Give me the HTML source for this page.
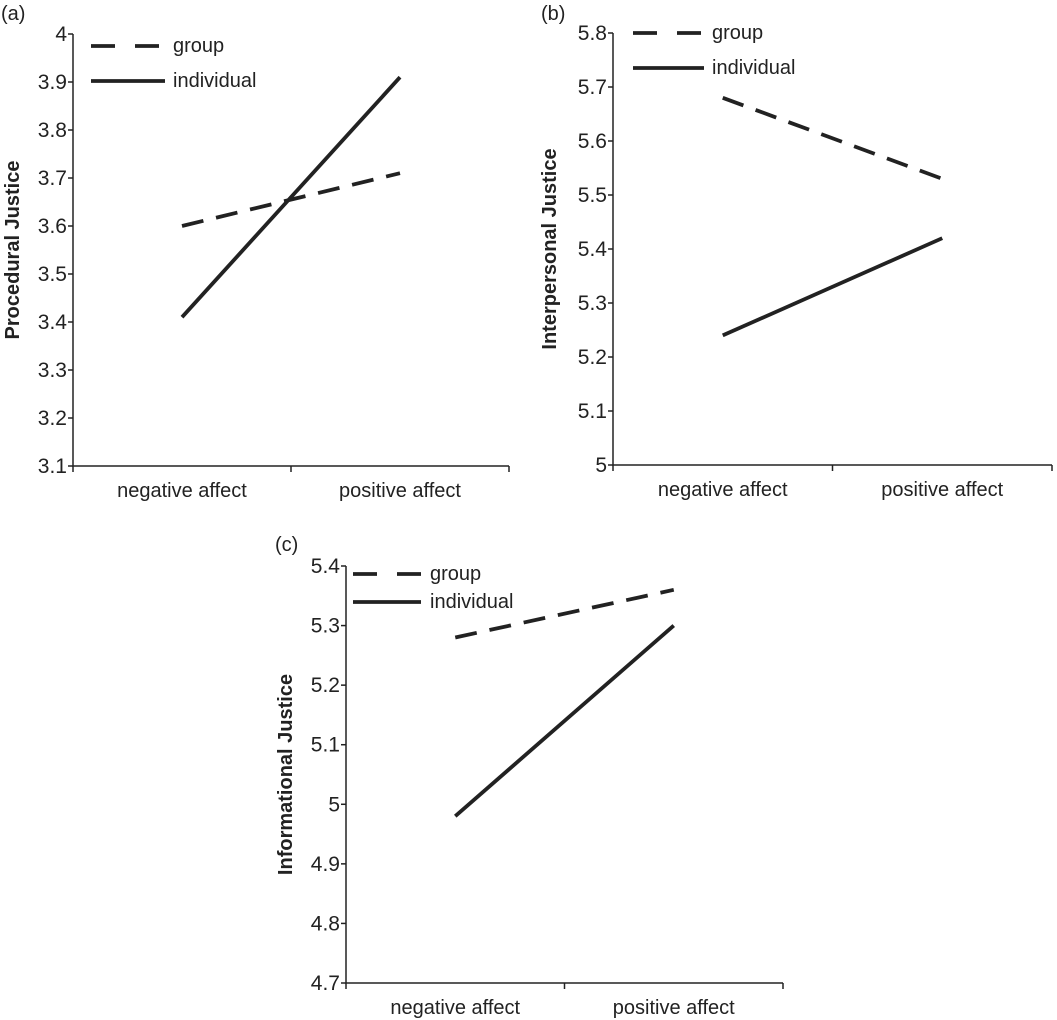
<!DOCTYPE html>
<html><head><meta charset="utf-8"><style>
html,body{margin:0;padding:0;background:#fff;}
svg{display:block;font-family:"Liberation Sans",Arial,sans-serif;}
</style></head><body>
<svg id="s" width="1057" height="1020" viewBox="0 0 1057 1020"></svg>
<script>
const categories = ["negative affect", "positive affect"];
const seriesNames = ["group", "individual"];
const aGroup = [3.6, 3.71];
const aIndividual = [3.41, 3.91];
const aTicks = [3.1, 3.2, 3.3, 3.4, 3.5, 3.6, 3.7, 3.8, 3.9, 4];
const aTickLabels = ["3.1","3.2","3.3","3.4","3.5","3.6","3.7","3.8","3.9","4"];
const bGroup = [5.68, 5.53];
const bIndividual = [5.24, 5.42];
const bTicks = [5, 5.1, 5.2, 5.3, 5.4, 5.5, 5.6, 5.7, 5.8];
const bTickLabels = ["5","5.1","5.2","5.3","5.4","5.5","5.6","5.7","5.8"];
const cGroup = [5.28, 5.36];
const cIndividual = [4.98, 5.3];
const cTicks = [4.7, 4.8, 4.9, 5, 5.1, 5.2, 5.3, 5.4];
const cTickLabels = ["4.7","4.8","4.9","5","5.1","5.2","5.3","5.4"];

const svg = document.getElementById('s');
const NS = 'http://www.w3.org/2000/svg';
function mk(tag, attrs, parent, text){
  const e = document.createElementNS(NS, tag);
  for (const k in attrs) e.setAttribute(k, attrs[k]);
  if (text !== undefined) e.textContent = text;
  parent.appendChild(e); return e;
}
function panel(p){
  const g = mk('g', {}, svg);
  
  
  const ticks = p.ticks, lo = ticks[0], hi = ticks[ticks.length-1];
  const y = v => p.y1 + (p.y0 - p.y1) * (hi - v) / (hi - lo);
  const bw = (p.x1 - p.x0) / categories.length;
  const x = i => p.x0 + bw * (i + 0.5);
  const lbl = mk('text', {x:p.lx, y:p.ly, 'font-size':20, fill:'#222'}, g, '(' + p.id + ')');
  
  
  const ax = mk('path', {d:`M${p.x0},${p.y1} V${p.y0} H${p.x1}`, stroke:'#222', 'stroke-width':1.5, fill:'none'}, g);
  
  
  ticks.forEach((t, i) => {
    mk('line', {x1:p.x0-5, x2:p.x0, y1:y(t), y2:y(t), stroke:'#222', 'stroke-width':1.5}, g);
    const tl = mk('text', {x:p.x0-6, y:y(t)+7, 'text-anchor':'end', 'font-size':21, fill:'#222'}, g, p.labels[i]);
    
    
  });
  for (let i = 0; i <= categories.length; i++) {
    mk('line', {x1:p.x0+bw*i, x2:p.x0+bw*i, y1:p.y0, y2:p.y0+6, stroke:'#222', 'stroke-width':1.5}, g);
  }
  categories.forEach((c, i) => {
    const t = mk('text', {x:x(i), y:p.y0+31, 'text-anchor':'middle', 'font-size':20, fill:'#222'}, g, c);
    
    
  });
  const ty = (p.y0 + p.y1) / 2;
  const tt = mk('text', {x:p.tx, y:ty, transform:`rotate(-90 ${p.tx} ${ty})`, 'text-anchor':'middle', 'font-size':20, 'font-weight':'bold', fill:'#222'}, g, p.title);
  
  
  const gl = mk('polyline', {points:p.group.map((v,i)=>x(i)+','+y(v)).join(' '), stroke:'#222', 'stroke-width':3.8, fill:'none', 'stroke-dasharray':'22,13'}, g);
  
  
  const il = mk('polyline', {points:p.ind.map((v,i)=>x(i)+','+y(v)).join(' '), stroke:'#222', 'stroke-width':3.8, fill:'none'}, g);
  
  
  const l1 = mk('line', {x1:p.legX0, x2:p.legX1, y1:p.legY1, y2:p.legY1, stroke:'#222', 'stroke-width':3.8, 'stroke-dasharray':'24,20'}, g);
  
  
  const t1 = mk('text', {x:p.legT, y:p.legY1+6, 'font-size':20, fill:'#222'}, g, seriesNames[0]);
  
  
  const l2 = mk('line', {x1:p.legX0, x2:p.legX1, y1:p.legY2, y2:p.legY2, stroke:'#222', 'stroke-width':3.8}, g);
  
  
  const t2 = mk('text', {x:p.legT, y:p.legY2+6, 'font-size':20, fill:'#222'}, g, seriesNames[1]);
  
  
}
panel({id:'a', x0:73, x1:509, y0:466, y1:34, ticks:aTicks, labels:aTickLabels, group:aGroup, ind:aIndividual,
  title:'Procedural Justice', tx:19, lx:1, ly:20, legX0:91, legX1:165, legY1:46, legY2:81, legT:173});
panel({id:'b', x0:613, x1:1052, y0:465, y1:33, ticks:bTicks, labels:bTickLabels, group:bGroup, ind:bIndividual,
  title:'Interpersonal Justice', tx:556, lx:541, ly:20, legX0:633, legX1:704, legY1:33, legY2:68, legT:712});
panel({id:'c', x0:346, x1:783, y0:983, y1:566, ticks:cTicks, labels:cTickLabels, group:cGroup, ind:cIndividual,
  title:'Informational Justice', tx:292, lx:275, ly:551, legX0:353, legX1:421, legY1:574, legY2:602, legT:430});
</script>
</body></html>
